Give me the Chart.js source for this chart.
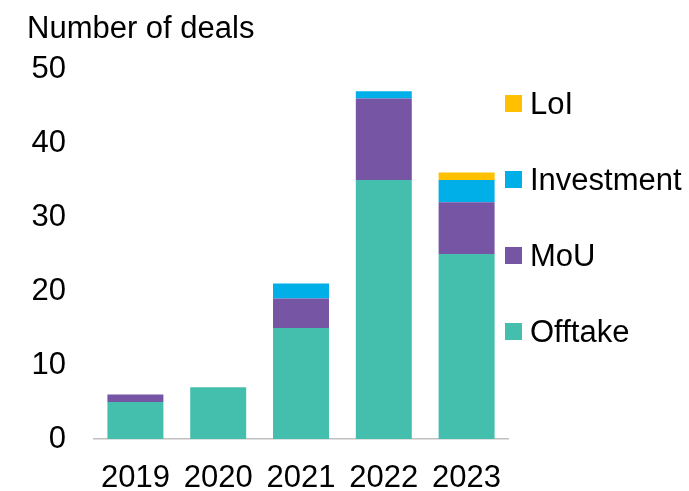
<!DOCTYPE html>
<html>
<head>
<meta charset="utf-8">
<script src="https://cdn.jsdelivr.net/npm/chart.js@4"></script>
<style>
  html, body { margin: 0; padding: 0; background: #fff; }
  #wrap { position: relative; width: 689px; height: 491px; }
  #legend { position: absolute; left: 0; top: 0; font-family: "Liberation Sans", Arial, sans-serif; font-size: 31px; color: #000; }
  .item { position: absolute; left: 505px; height: 17px; white-space: nowrap; }
  .box { position: absolute; left: 0; top: 0; width: 17px; height: 17px; }
  .label { position: absolute; left: 25px; top: -7px; line-height: 31px; }
</style>
</head>
<body>
<div id="wrap">
  <canvas id="chart" width="689" height="491"></canvas>
  <div id="legend"></div>
</div>
<script>
const years = ["2019", "2020", "2021", "2022", "2023"];
const offtake = [5, 7, 15, 35, 25];
const mou = [1, 0, 4, 11, 7];
const investment = [0, 0, 2, 1, 3];
const loi = [0, 0, 0, 0, 1];

const seriesNames = ["Offtake", "MoU", "Investment", "LoI"];
const seriesColors = ["#44BFAD", "#7755A5", "#00AEE8", "#FFC000"];
const yTicks = [0, 10, 20, 30, 40, 50];

const font = "'Liberation Sans', Arial, sans-serif";
Chart.defaults.font.family = font;
Chart.defaults.color = "#000";

const seriesData = [offtake, mou, investment, loi];
const datasets = seriesNames.map((name, i) => ({
  label: name,
  data: seriesData[i],
  backgroundColor: seriesColors[i],
  borderWidth: 0,
  categoryPercentage: 1,
  barPercentage: 0.676
}));

new Chart(document.getElementById("chart"), {
  type: "bar",
  data: { labels: years, datasets },
  options: {
    responsive: false,
    animation: false,
    layout: { padding: { left: 27, right: 181, top: 0, bottom: 0 } },
    plugins: {
      legend: { display: false },
      tooltip: { enabled: false },
      title: {
        display: true,
        text: "Number of deals",
        align: "start",
        color: "#000",
        font: { size: 31, weight: "normal", lineHeight: 1 },
        padding: { top: 13.5, bottom: 24.5 }
      }
    },
    scales: {
      x: {
        stacked: true,
        grid: { display: false, drawTicks: false },
        border: { display: true, color: "#c0c0c0", width: 1.5 },
        ticks: { font: { size: 31, lineHeight: 1 }, padding: 24, maxRotation: 0 },
        afterFit: (s) => { s.height = 52; }
      },
      y: {
        stacked: true,
        min: 0,
        max: 50,
        grid: { display: false, drawTicks: false },
        border: { display: false },
        afterBuildTicks: (s) => { s.ticks = yTicks.map(v => ({ value: v })); },
        ticks: { font: { size: 31, lineHeight: 1 }, padding: 28 },
        afterFit: (s) => { s.width = 67; }
      }
    }
  }
});

// legend, top item first (reverse of stacking order)
const legend = document.getElementById("legend");
const legendTop = [95, 171, 247, 323];
seriesNames.slice().reverse().forEach((name, i) => {
  const color = seriesColors[seriesNames.length - 1 - i];
  const item = document.createElement("div");
  item.className = "item";
  item.style.top = legendTop[i] + "px";
  item.innerHTML = `<div class="box" style="background:${color}"></div><div class="label">${name}</div>`;
  legend.appendChild(item);
});
</script>
</body>
</html>
